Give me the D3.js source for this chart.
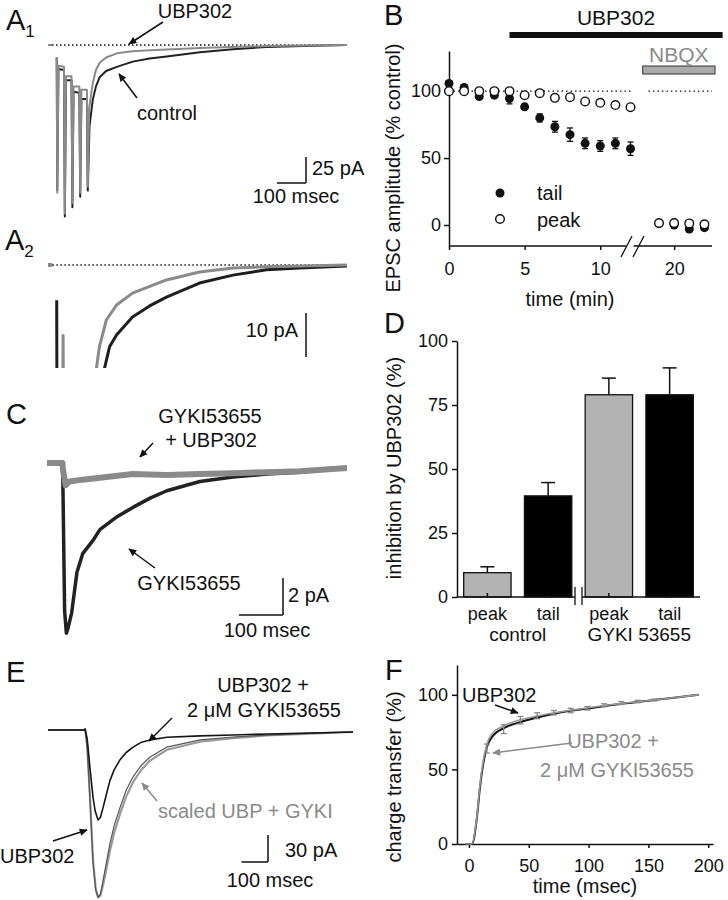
<!DOCTYPE html>
<html><head><meta charset="utf-8">
<script src="https://cdn.jsdelivr.net/npm/d3@7"></script>
<style>body{margin:0;background:#fff}</style>
</head><body><svg id="fig" width="728" height="900" style="background:#fff"></svg>
<script>
// ---------------- DATA ----------------
// Panel A1: EPSC traces [time ms, current pA]
const a1Control = [[-30,0],[-15,0],[-14,null],[0,-12],[2,-140],[6,-23],[25,-24],[28,-165],[32,-34],[51,-34],[54,-156],[58,-45],[78,-46],[81,-146],[85,-52],[104,-52],[107,-140],[113,-78],[124,-53],[135,-40],[148,-31],[170,-25],[207,-21],[262,-16],[320,-13],[379,-11],[493,-7],[607,-4],[724,-2],[850,-1],[1000,0]];
const a1Ubp = [[-30,0],[-15,0],[-14,null],[0,-12],[2,-142],[6,-20],[25,-21],[28,-162],[32,-30],[51,-30],[54,-152],[58,-40],[78,-40],[81,-142],[85,-43],[104,-43],[107,-136],[112,-60],[124,-37],[135,-24],[148,-17],[170,-12],[207,-8],[260,-6],[321,-5],[400,-4],[493,-3],[600,-2],[724,-1],[850,-0.5],[1000,0]];
// Panel A2: same recordings at higher gain [ms, pA]
const a2Control = [[-30,0],[-15,0],[-14,null],[0,-8],[1,-40],[150,-40],[165,-23.4],[182,-18.6],[206,-15.9],[261,-11.8],[320,-9.3],[378,-7.3],[492,-4.1],[607,-2.3],[722,-1.1],[837,-0.7],[1000,-0.2]];
const a2Ubp = [[-30,0],[-15,0],[-14,null],[20,-40],[22,-16],[24,-40],[130,-40],[137,-23.4],[147,-18.6],[171,-12.5],[206,-9.1],[261,-6.4],[378,-3.4],[492,-1.6],[607,-0.7],[722,-0.4],[1000,0]];
// Panel B: time course
const bTime    = [0,1,2,3,4,5,6,7,8,9,10,11,12,19,20,21,22];
const bTail    = [105.7,102.7,96,97,94.5,88.3,80,73.4,67.5,61,59,61,57,1,0,-3,-2];
const bTailErr = [2,1.5,1.5,1.5,4,2,3,4,5,4,4,4,5,1,1,1.5,1.5];
const bPeak    = [100,100,100,100,100,97,98.5,95,95.5,92.3,91.3,89.6,88,1.5,1.5,1.2,0.5];
const bTicks   = [0,5,10,20];
const bYTicks  = [0,50,100];
const ubpPeriod  = [4,23.2];
const nbqxPeriod = [15,22.7];
// Panel C traces [ms, pA]
const cGyki = [[-36,0],[-1,0],[0,-1],[4,-8],[8,-9.2],[12,-8.9],[20,-8.1],[32,-5.9],[45,-4.9],[68,-4.2],[84,-3.6],[123,-2.9],[159,-2.4],[198,-1.9],[236,-1.5],[311,-1.0],[386,-0.76],[464,-0.6],[539,-0.5],[645,-0.27]];
const cGykiUbp = [[-36,0],[-1,0],[0,-0.3],[6,-1.2],[15,-1.0],[45,-0.9],[84,-0.8],[159,-0.6],[236,-0.65],[311,-0.6],[386,-0.55],[464,-0.5],[539,-0.45],[645,-0.27]];
// Panel D: inhibition by UBP302 (%)
const dKeys    = ["c-peak","c-tail","g-peak","g-tail"];
const dLabels  = ["peak","tail","peak","tail"];
const dValues  = [9.5,39.5,79,79];
const dErrors  = [2.3,5.2,6.5,10.5];
const dFills   = ["#b3b3b3","#000000","#b3b3b3","#000000"];
const dGroups  = ["control","GYKI 53655"];
const dYTicks  = [0,25,50,75,100];
// Panel E traces [ms, pA]
const eUbpGyki = [[-140,0],[-2,0],[0,1],[8,-10],[19,-44],[30,-75],[38,-90],[49,-100],[58,-97],[68,-86],[80,-72],[94,-56],[110,-44],[132,-33],[155,-25],[181,-19],[210,-14],[245,-11],[309,-8],[434,-6.5],[558,-5.5],[687,-4.4],[850,-3.3],[1011,-2.2]];
const eUbp = [[-140,0],[-2,0],[0,1],[8,-20],[19,-81],[30,-148],[40,-178],[49,-186],[58,-182],[68,-167],[80,-148],[94,-126],[110,-106],[132,-86],[155,-67],[181,-52],[210,-40],[245,-30],[309,-19],[434,-11],[558,-7.8],[687,-5.6],[850,-3.8],[1011,-2.2]];
const eScaled = [[-140,0],[-2,0],[0,1],[8,-18],[19,-78],[30,-145],[40,-176],[49,-186],[58,-184],[68,-172],[80,-155],[94,-134],[110,-114],[132,-93],[155,-74],[181,-58],[210,-45],[245,-34],[309,-22],[434,-13],[558,-9],[687,-6],[850,-4],[1011,-2.2]];
// Panel F: cumulative charge transfer (%)
const fUbp = [[-3,0],[2.5,0],[6.7,18],[9.2,38],[12,54],[15,65],[20,72.5],[30,78],[44,82],[58,85],[72,87.5],[101,91],[131,94.3],[160,97],[192,100]];
const fUbpGyki = [[-3,0],[2.5,0],[6.7,19],[9.2,40],[12,56],[15,67],[20,74.5],[30,79.5],[44,83.5],[58,86],[72,88],[101,91.5],[131,94.5],[160,97],[192,100]];
const fErrT    = [15,29,43,57,71,85,99,113,127,141,155];
const fErrMean = [64,77,83,86,88,89.5,91,93,94.5,95.5,96.5];
const fErrSd   = [3,3,2.5,2,1.5,1.5,1.2,1,1,0.8,0.6];
const fXTicks  = [0,50,100,150,200];
const fYTicks  = [0,50,100];

// ---------------- DRAWING ----------------
const FONT = '"Liberation Sans", Arial, Helvetica, sans-serif';
const K = "#111111", G = "#8a8a8a";
const svg = d3.select("#fig");
const defs = svg.append("defs");
[["arrK",K],["arrG",G]].forEach(([id,c])=>{
  defs.append("marker").attr("id",id).attr("viewBox","0 0 10 10").attr("refX",9).attr("refY",5)
    .attr("markerWidth",9).attr("markerHeight",8).attr("markerUnits","userSpaceOnUse").attr("orient","auto")
    .append("path").attr("d","M0,0.5 L10,5 L0,9.5 Z").attr("fill",c);
});
function txt(x,y,s,o={}){
  const t = svg.append("text").attr("x",x).attr("y",y).text(s)
    .attr("font-family",FONT).attr("font-size",o.size||20).attr("fill",o.fill||K)
    .attr("text-anchor",o.anchor||"start");
  if(o.rotate) t.attr("transform",`rotate(-90,${x},${y})`);
  return t;
}
function letter(x,y,s,sub){
  const t = txt(x,y,s,{size:29});
  if(sub) t.append("tspan").attr("font-size",17).attr("dy",7).text(sub);
}
function arrow(x1,y1,x2,y2,c){
  svg.append("line").attr("x1",x1).attr("y1",y1).attr("x2",x2).attr("y2",y2)
    .attr("stroke",c).attr("stroke-width",1.5).attr("marker-end",`url(#${c===K?"arrK":"arrG"})`);
}
function trace(g,data,xs,ys,c,w,curve){
  g.append("path").datum(data)
    .attr("d",d3.line().defined(d=>d[1]!==null).x(d=>xs(d[0])).y(d=>ys(d[1])).curve(curve||d3.curveLinear))
    .attr("fill","none").attr("stroke",c).attr("stroke-width",w).attr("stroke-linejoin","round");
}
function seg(x1,y1,x2,y2,c,w,dash){
  const l = svg.append("line").attr("x1",x1).attr("y1",y1).attr("x2",x2).attr("y2",y2)
    .attr("stroke",c||K).attr("stroke-width",w||1.5);
  if(dash) l.attr("stroke-dasharray",dash);
  return l;
}
function styleAxis(g){
  g.selectAll("path.domain").attr("stroke",K).attr("stroke-width",1.5);
  g.selectAll(".tick line").attr("stroke",K).attr("stroke-width",1.5);
  g.selectAll(".tick text").attr("font-size",18).attr("font-family",FONT).attr("fill",K);
}

// ===== Panel A1 =====
const xA  = d3.scaleLinear().domain([-30,1000]).range([48,347]);
const yA1 = d3.scaleLinear().domain([0,-25]).range([45,71]);
letter(6,30,"A","1");
seg(xA(-30),yA1(0),xA(1000),yA1(0),K,1.3,"1.5,2.5");
const gA1 = svg.append("g");
trace(gA1,a1Control,xA,yA1,"#222",2);
trace(gA1,a1Ubp,xA,yA1,G,2);
txt(195,18,"UBP302",{anchor:"middle"});
arrow(163,22,129,44,K);
txt(137,120,"control");
arrow(137,98,119,74,K);
// scale bar 25 pA / 100 msec
{
  const bx = 306, by = 183;
  seg(bx,by,bx,by-(yA1(-25)-yA1(0)),K,1.5);
  seg(bx-(xA(100)-xA(0)),by,bx,by,K,1.5);
  txt(312,175,"25 pA");
  txt(296,203,"100 msec",{anchor:"middle"});
}

// ===== Panel A2 =====
const yA2 = d3.scaleLinear().domain([0,-10]).range([265,309]);
letter(5,250,"A","2");
defs.append("clipPath").attr("id","clipA2").append("rect").attr("x",0).attr("y",240).attr("width",370).attr("height",128);
seg(xA(-15),yA2(0),xA(1000),yA2(0),K,1.3,"1.5,2.5");
const gA2 = svg.append("g").attr("clip-path","url(#clipA2)");
trace(gA2,a2Control,xA,yA2,"#1e1e1e",3);
trace(gA2,a2Ubp,xA,yA2,G,3);
{
  const bx = 306, by = 357;
  seg(bx,by,bx,by-(yA2(-10)-yA2(0)),K,1.5);
  txt(298,337,"10 pA",{anchor:"end"});
}

// ===== Panel C =====
const xC = d3.scaleLinear().domain([-36,645]).range([47,347]);
const yC = d3.scaleLinear().domain([0,-2]).range([463,500]);
letter(6,424,"C");
const gC = svg.append("g");
trace(gC,cGyki,xC,yC,"#222",3.5);
trace(gC,cGykiUbp,xC,yC,G,6);
txt(210,423,"GYKI53655",{anchor:"middle"});
txt(211,447,"+ UBP302",{anchor:"middle"});
arrow(153,443,140,457,K);
txt(189,590,"GYKI53655",{anchor:"middle"});
arrow(155,568,129,549,K);
{
  const bx = 283, by = 615;
  seg(bx,by,bx,by-(yC(-2)-yC(0)),K,1.5);
  seg(bx-(xC(100)-xC(0)),by,bx,by,K,1.5);
  txt(288,602,"2 pA");
  txt(267,637,"100 msec",{anchor:"middle"});
}

// ===== Panel E =====
const xE = d3.scaleLinear().domain([-140,1011]).range([48,353]);
const yE = d3.scaleLinear().domain([0,-30]).range([730,757]);
letter(6,682,"E");
const gE = svg.append("g");
trace(gE,eScaled,xE,yE,"#9a9a9a",2.2);
trace(gE,eUbp,xE,yE,"#555",1.2);
trace(gE,eUbpGyki,xE,yE,"#151515",1.6);
txt(263,692,"UBP302 +",{anchor:"middle"});
txt(264,717,"2 \u03bcM GYKI53655",{anchor:"middle"});
arrow(172,718,149,741,K);
txt(158,818,"scaled UBP + GYKI",{fill:G});
arrow(157,801,142,783,G);
txt(0,863,"UBP302");
arrow(53,841,87,830,K);
{
  const bx = 268, by = 862;
  seg(bx,by,bx,by-(yE(-30)-yE(0)),K,1.5);
  seg(bx-(xE(100)-xE(0)),by,bx,by,K,1.5);
  txt(285,857,"30 pA");
  txt(270,887,"100 msec",{anchor:"middle"});
}

// ===== Panel B =====
const xB = d3.scaleLinear().domain([0,12,19,22.5]).range([449,630.5,659,712]);
const yB = d3.scaleLinear().domain([-15.7,130]).range([246,51]);
letter(384,25,"B");
// drug bars
svg.append("rect").attr("x",xB(ubpPeriod[0])).attr("y",32).attr("width",xB(ubpPeriod[1])-xB(ubpPeriod[0])).attr("height",6).attr("fill",K);
txt((xB(ubpPeriod[0])+xB(ubpPeriod[1]))/2,25,"UBP302",{anchor:"middle",size:21});
svg.append("rect").attr("x",xB(nbqxPeriod[0])).attr("y",66).attr("width",xB(nbqxPeriod[1])-xB(nbqxPeriod[0])).attr("height",8)
  .attr("fill","#aaaaaa").attr("stroke","#333").attr("stroke-width",1);
txt((xB(nbqxPeriod[0])+xB(nbqxPeriod[1]))/2,62,"NBQX",{anchor:"middle",size:21,fill:G});
// axes
const gBy = svg.append("g").attr("transform",`translate(${xB(0)},0)`)
  .call(d3.axisLeft(yB).tickValues(bYTicks).tickSizeInner(5).tickSizeOuter(0).tickPadding(3));
styleAxis(gBy);
const gBx = svg.append("g").attr("transform",`translate(0,${yB(-15.7)})`)
  .call(d3.axisBottom(xB).tickValues(bTicks).tickSizeInner(4).tickSizeOuter(0).tickPadding(12));
styleAxis(gBx);
gBx.select("path.domain").remove();
seg(xB(0),yB(-15.7),xB(11.7),yB(-15.7));
seg(xB(12.75),yB(-15.7),xB(22.5),yB(-15.7));
seg(621,257,632,236,K,1.3);
seg(633,257,644,236,K,1.3);
txt(570,306,"time (min)",{anchor:"middle"});
txt(400,168,"EPSC amplitude (% control)",{anchor:"middle",rotate:true});
// dotted 100% reference
[[0,12.2],[16.4,22.5]].forEach(r=>seg(xB(r[0]),yB(100),xB(r[1]),yB(100),K,1.3,"1.5,3"));
// tail error bars + points
const gB = svg.append("g");
bTime.forEach((t,i)=>{
  const x = xB(t), y1 = yB(bTail[i]-bTailErr[i]), y2 = yB(bTail[i]+bTailErr[i]);
  gB.append("line").attr("x1",x).attr("x2",x).attr("y1",y1).attr("y2",y2).attr("stroke",K).attr("stroke-width",1.3);
  [y1,y2].forEach(yy=>gB.append("line").attr("x1",x-3).attr("x2",x+3).attr("y1",yy).attr("y2",yy).attr("stroke",K).attr("stroke-width",1.3));
});
gB.selectAll("circle.tail").data(bTime).join("circle").attr("class","tail")
  .attr("cx",(d)=>xB(d)).attr("cy",(d,i)=>yB(bTail[i])).attr("r",4.5).attr("fill",K);
gB.selectAll("circle.peak").data(bTime).join("circle").attr("class","peak")
  .attr("cx",(d)=>xB(d)).attr("cy",(d,i)=>yB(bPeak[i])).attr("r",4.3).attr("fill","#fff").attr("stroke",K).attr("stroke-width",1.4);
// legend
svg.append("circle").attr("cx",500).attr("cy",193).attr("r",4.5).attr("fill",K);
txt(537,200,"tail");
svg.append("circle").attr("cx",500).attr("cy",219).attr("r",4.3).attr("fill","#fff").attr("stroke",K).attr("stroke-width",1.4);
txt(537,227,"peak");

// ===== Panel D =====
const yD = d3.scaleLinear().domain([0,100]).range([597,341]);
const xD = d3.scaleBand().domain(dKeys).range([457,700]).paddingInner(0.22).paddingOuter(0.11);
letter(384,333,"D");
const gD = svg.append("g");
dKeys.forEach((k,i)=>{
  const x = xD(k), w = xD.bandwidth(), cx = x + w/2;
  const top = yD(dValues[i]+dErrors[i]);
  gD.append("line").attr("x1",cx).attr("x2",cx).attr("y1",yD(dValues[i])).attr("y2",top).attr("stroke",K).attr("stroke-width",1.5);
  gD.append("line").attr("x1",cx-7).attr("x2",cx+7).attr("y1",top).attr("y2",top).attr("stroke",K).attr("stroke-width",1.5);
  gD.append("rect").attr("x",x).attr("y",yD(dValues[i])).attr("width",w).attr("height",yD(0)-yD(dValues[i]))
    .attr("fill",dFills[i]).attr("stroke",K).attr("stroke-width",1.3);
});
const gDy = svg.append("g").attr("transform",`translate(457,0)`)
  .call(d3.axisLeft(yD).tickValues(dYTicks).tickSizeInner(5).tickSizeOuter(0).tickPadding(4));
styleAxis(gDy);
const gDx = svg.append("g").attr("transform",`translate(0,${yD(0)})`)
  .call(d3.axisBottom(xD).tickFormat((d,i)=>dLabels[i]).tickSizeInner(-4).tickSizeOuter(0).tickPadding(10));
styleAxis(gDx);
gDx.select("path.domain").remove();
const brk = (xD("c-tail")+xD.bandwidth()+xD("g-peak"))/2;
seg(457,yD(0),brk-3.5,yD(0));
seg(brk+3.5,yD(0),700,yD(0));
seg(brk-3.5,587,brk-3.5,605,K,1.3);
seg(brk+3.5,587,brk+3.5,605,K,1.3);
txt((xD("c-peak")+xD("c-tail")+xD.bandwidth())/2,641,dGroups[0],{anchor:"middle",size:19});
txt((xD("g-peak")+xD("g-tail")+xD.bandwidth())/2,641,dGroups[1],{anchor:"middle",size:19});
txt(401,468,"inhibition by UBP302 (%)",{anchor:"middle",rotate:true});

// ===== Panel F =====
const xF = d3.scaleLinear().domain([-10,204]).range([457,713]);
const yF = d3.scaleLinear().domain([0,120]).range([844,665]);
letter(385,680,"F");
const gFy = svg.append("g").attr("transform",`translate(457,0)`)
  .call(d3.axisLeft(yF).tickValues(fYTicks).tickSizeInner(5).tickSizeOuter(0).tickPadding(4));
styleAxis(gFy);
const gFx = svg.append("g").attr("transform",`translate(0,844)`)
  .call(d3.axisBottom(xF).tickValues(fXTicks).tickSizeInner(4).tickSizeOuter(0).tickPadding(11));
styleAxis(gFx);
const gF = svg.append("g");
trace(gF,fUbp,xF,yF,"#111",2,d3.curveMonotoneX);
trace(gF,fUbpGyki,xF,yF,"#999",1.6,d3.curveMonotoneX);
fErrT.forEach((t,i)=>{
  const x = xF(t), y1 = yF(fErrMean[i]-fErrSd[i]), y2 = yF(fErrMean[i]+fErrSd[i]);
  gF.append("line").attr("x1",x).attr("x2",x).attr("y1",y1).attr("y2",y2).attr("stroke","#888").attr("stroke-width",1.3);
  [y1,y2].forEach(yy=>gF.append("line").attr("x1",x-3).attr("x2",x+3).attr("y1",yy).attr("y2",yy).attr("stroke","#888").attr("stroke-width",1.3));
});
txt(462,702,"UBP302");
arrow(495,705,518,713,K);
txt(613,748,"UBP302 +",{anchor:"middle",fill:G});
txt(617,777,"2 \u03bcM GYKI53655",{anchor:"middle",fill:G});
arrow(572,743,493,753,G);
txt(585,893,"time (msec)",{anchor:"middle"});
txt(401,777,"charge transfer (%)",{anchor:"middle",rotate:true});
</script></body></html>
